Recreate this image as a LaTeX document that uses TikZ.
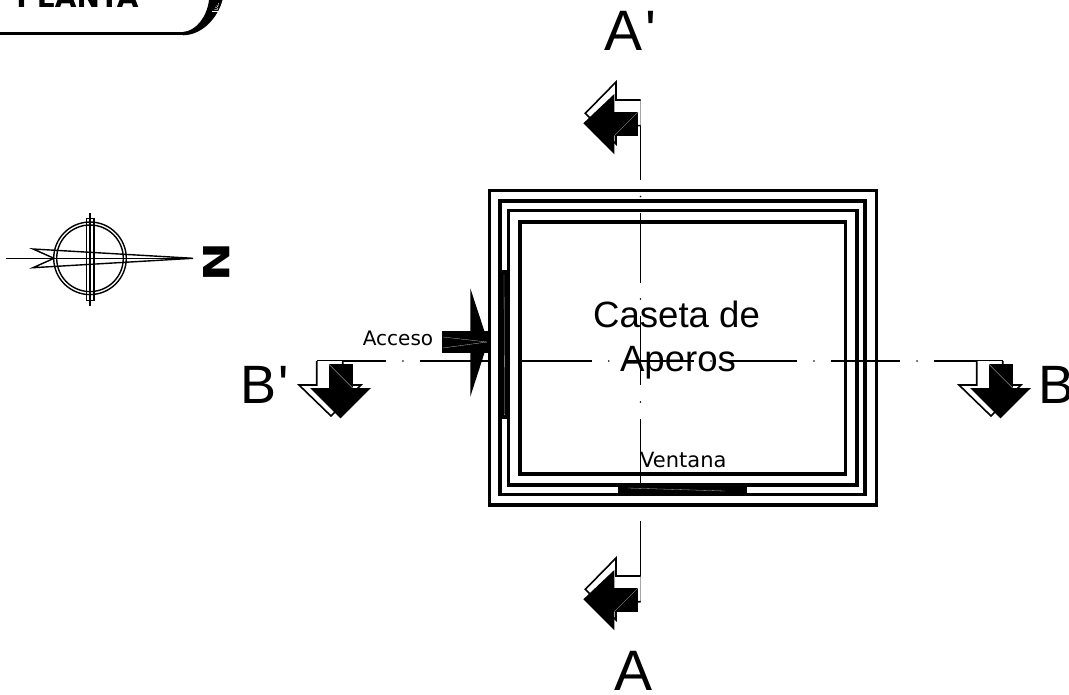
\documentclass[tikz,border=0pt]{standalone}
\usepackage{fontspec}
\usepackage{graphicx}
\setmainfont{Liberation Sans}
\newfontfamily\dvsans{DejaVu Sans}
\tikzset{
  x=1pt,y=-1pt,
  wall/.style={draw=black,line width=3.2pt,miter limit=10},
  axis/.style={draw=black,line width=1.5pt},
  fine/.style={draw=black,line width=1.4pt},
  hair/.style={draw=white!75!black,line width=0.3pt},
  hatch/.style={draw=white,line width=0.4pt},
  whitehead/.style={fill=white,draw=black,line width=1.6pt},
  big/.style={font=\fontsize{57}{57}\selectfont,inner sep=0pt,anchor=base west},
  mid/.style={font=\fontsize{54}{54}\selectfont,inner sep=0pt,anchor=base west},
  caption/.style={font=\fontsize{36.6}{36.6}\selectfont,inner sep=0pt,anchor=base},
}
\begin{document}
\begin{tikzpicture}
\useasboundingbox (0,0) rectangle (1069,695);
% centre lines
\foreach \a/\b in {100/180,213/283,316/385,419/488,521/601.7}
  \draw[axis] (640.5,\a) -- (640.5,\b);
\foreach \d in {196.5,299,402}
  \fill (640.5,\d) circle[radius=0.9];
\foreach \a/\b in {316.7/386,419.5/488,521/591.7,625/694,728/797,831/900,934/1003}
  \draw[axis] (\a,361) -- (\b,361);
\foreach \d in {403,608.7,711,814,917}
  \fill (\d,361) circle[radius=0.9];
% walls
\draw[wall] (489.5,190.5) rectangle (876.5,505);
\draw[wall] (500,201) rectangle (865,494.5);
\draw[wall] (508.5,210.5) rectangle (857,485);
\draw[wall] (520,222) rectangle (845.5,474);
% door and window
\fill (499,270) rectangle (509.5,418.5);
\draw[hair] (504,275) -- (504.6,415);
\fill (618,483.5) rectangle (747,495.5);
\draw[hair] (628,488) -- (725,491);
% access arrow
\fill (442,331) rectangle (487.5,353);
\fill (470.3,288.3) -- (488,342) -- (470.3,396.7) -- cycle;
\draw[hair] (443,337) -- (487,342);
\draw[hair] (443,348) -- (487,342);
% B' section mark
\draw[whitehead] (316.7,361) -- (316.7,385) -- (299,385) -- (331,416) -- (361,385) -- (342.7,385) -- (342.7,361);
\fill (328.7,364) rectangle (352.7,389);
\fill (310,388) -- (371,388) -- (340.5,418.3) -- cycle;
\draw[hair] (328.7,364) -- (352.7,388);
% B section mark
\draw[whitehead] (976.7,361) -- (976.7,385) -- (959,385) -- (991,416) -- (1021,385) -- (1002.7,385) -- (1002.7,361);
\fill (988.7,364) rectangle (1012.7,389);
\fill (970,388) -- (1031,388) -- (1000.5,418.3) -- cycle;
\draw[hair] (988.7,364) -- (1012.7,388);
% A' section mark
\draw[whitehead] (640.7,100) -- (616,100) -- (616,82) -- (585.3,113.3) -- (616,144) -- (616,125.7) -- (640.7,125.7);
\fill (613.5,111.7) rectangle (638.3,135.7);
\fill (614.3,94) -- (614.3,154.3) -- (583.3,123.3) -- cycle;
\draw[hair] (614.3,135.7) -- (638.3,111.7);
% A section mark
\draw[whitehead] (640.7,576) -- (616,576) -- (616,558) -- (585.3,589.3) -- (616,620) -- (616,601.7) -- (640.7,601.7);
\fill (613.5,587.7) rectangle (638.3,611.7);
\fill (614.3,570) -- (614.3,630.3) -- (583.3,599.3) -- cycle;
\draw[hair] (614.3,611.7) -- (638.3,587.7);
% north symbol
\draw[fine] (90,258.3) circle[radius=36.3];
\draw[fine] (90,258.3) circle[radius=33.3];
\draw[fine] (86.7,218.3) rectangle (94,300.7);
\draw[fine] (90,213) -- (90,306);
\draw[fine] (6,258.3) -- (193,258.3);
\draw[fine,line join=miter] (193,258.3) -- (33,249) -- (54,258.3) -- (33,267.7) -- cycle;
\node[inner sep=0pt,font=\dvsans\bfseries\fontsize{36}{36}\selectfont,rotate=-90] (north) at (217,262) {\scalebox{1.3}[1]{N}};
% title frame
\draw[line width=3.2pt] (0,33.5) -- (183,33.5);
\fill (183,32) .. controls (196,31) and (207,17) .. (209,0) -- (222.5,0) .. controls (218,17) and (203,35) .. (183,35.3) -- cycle;
\foreach \i in {0,2,4,6,8} \draw[hatch] (212+\i*0.8,11-\i) -- (218,11-\i*0.6);
\node[inner sep=0pt,anchor=base,font=\dvsans\bfseries\fontsize{28}{28}\selectfont] (titulo) at (77.5,7.5) {PLANTA};
% labels
\node[big] (lAp) at (604.5,50.5) {A\kern3pt\textquotesingle};
\node[big] (lA) at (614,690) {A};
\node[mid] (lBp) at (240.5,403.5) {B\kern1.5pt\textquotesingle};
\node[mid] (lB) at (1038.5,403.5) {B};
\node[caption] (cas) at (676.5,327) {Caseta de};
\node[caption] (ape) at (678,371.7) {Aperos};
\node[inner sep=0pt,anchor=base west,font=\dvsans\fontsize{20}{20}\selectfont] (acc) at (362.7,345.7) {Acceso};
\node[inner sep=0pt,anchor=base west,font=\dvsans\fontsize{21}{21}\selectfont] (ven) at (640,467) {Ventana};
\end{tikzpicture}
\end{document}
